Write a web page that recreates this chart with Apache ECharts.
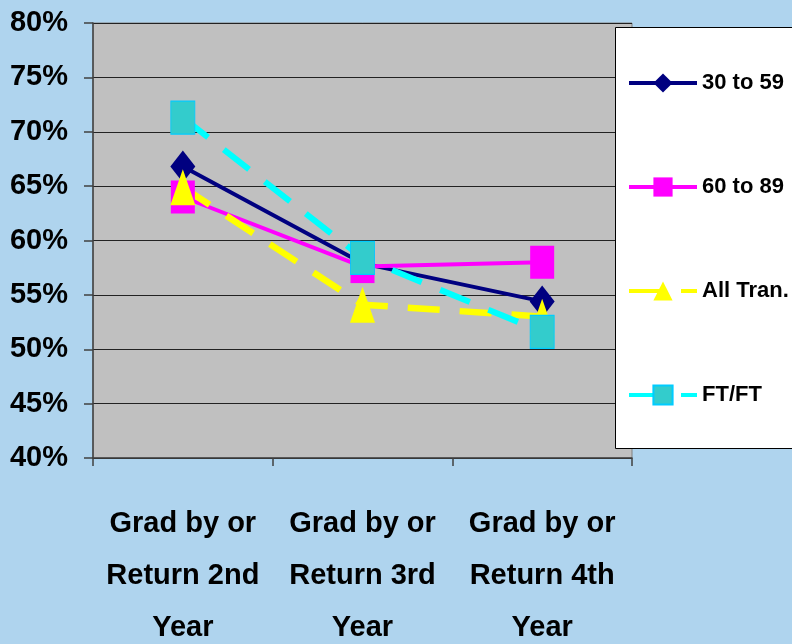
<!DOCTYPE html>
<html>
<head>
<meta charset="utf-8">
<script src="https://cdn.jsdelivr.net/npm/echarts@6/dist/echarts.min.js"></script>
<style>
  html, body { margin: 0; padding: 0; background: #afd4ee; }
  #main { width: 792px; height: 644px; }
</style>
</head>
<body>
<div id="main"></div>
<script>
  // values (percent)
  var categories = ['Grad by or\nReturn 2nd\nYear', 'Grad by or\nReturn 3rd\nYear', 'Grad by or\nReturn 4th\nYear'];
  var yTicks = [40, 45, 50, 55, 60, 65, 70, 75, 80];
  var seriesNames = ['30 to 59', '60 to 89', 'All Tran.', 'FT/FT'];
  var s30to59 = [66.8, 57.9, 54.4];
  var s60to89 = [64.0, 57.6, 58.0];
  var allTran = [64.9, 54.1, 53.0];
  var ftft = [71.3, 58.4, 51.6];

  var font = "'Liberation Sans', Arial, sans-serif";

  var chart = echarts.init(document.getElementById('main'));
  var option = {
    backgroundColor: '#afd4ee',
    animation: false,
    grid: {
      left: 93, top: 23, right: 160, bottom: 186,
      outerBoundsMode: 'none',
      show: true, backgroundColor: '#c0c0c0', borderColor: '#808080', borderWidth: 1
    },
    xAxis: {
      type: 'category',
      data: categories,
      boundaryGap: true,
      axisLine: { lineStyle: { color: '#404040', width: 1.5 } },
      axisTick: { show: true, length: 8, lineStyle: { color: '#404040', width: 1.5 } },
      axisLabel: {
        interval: 0, margin: 40, color: '#000', fontFamily: font, fontWeight: 'bold',
        fontSize: 29, lineHeight: 52
      }
    },
    yAxis: {
      type: 'value',
      min: yTicks[0], max: yTicks[yTicks.length - 1], interval: 5,
      axisLine: { show: true, lineStyle: { color: '#404040', width: 1.5 } },
      axisTick: { show: true, length: 9, lineStyle: { color: '#404040', width: 1.5 } },
      splitLine: { lineStyle: { color: '#222', width: 1.2 } },
      axisLabel: {
        margin: 25, color: '#000', fontFamily: font, fontWeight: 'bold', fontSize: 29,
        formatter: '{value}%'
      }
    },
    legend: {
      orient: 'vertical',
      left: 622, top: 67,
      itemWidth: 68, itemHeight: 24, itemGap: 82,
      selectedMode: false,
      data: seriesNames,
      lineStyle: { width: 4 },
      textStyle: { color: '#000', fontFamily: font, fontWeight: 'bold', fontSize: 22 }
    },
    graphic: [{
      type: 'rect', z: 3,
      shape: { x: 615.5, y: 27.5, width: 190, height: 421 },
      style: { fill: '#fff', stroke: '#000', lineWidth: 1 }
    }],
    series: [
      {
        name: seriesNames[0], type: 'line', data: s30to59,
        symbol: 'diamond', symbolSize: [25, 32],
        lineStyle: { color: '#000080', width: 4 },
        itemStyle: { color: '#000080' }
      },
      {
        name: seriesNames[1], type: 'line', data: s60to89,
        symbol: 'rect', symbolSize: [24, 33],
        lineStyle: { color: '#ff00ff', width: 4 },
        itemStyle: { color: '#ff00ff' }
      },
      {
        name: seriesNames[2], type: 'line', data: allTran,
        symbol: 'triangle', symbolSize: [25, 36],
        lineStyle: { color: '#ffff00', width: 6.5, type: [32, 20] },
        itemStyle: { color: '#ffff00' }
      },
      {
        name: seriesNames[3], type: 'line', data: ftft,
        symbol: 'rect', symbolSize: [24, 33],
        lineStyle: { color: '#00ffff', width: 6, type: [32, 20] },
        itemStyle: { color: '#33cccc', borderColor: '#00ccff', borderWidth: 1 }
      }
    ]
  };
  chart.setOption(option);
</script>
</body>
</html>
